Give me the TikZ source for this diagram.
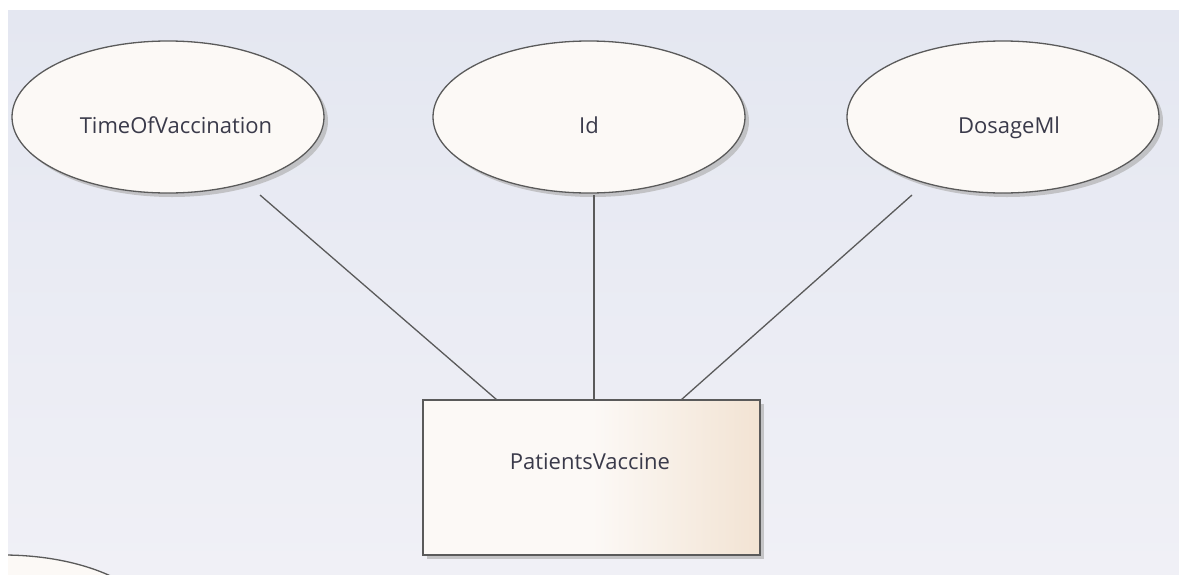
\documentclass[tikz,border=0pt]{standalone}
\usepackage{fontspec}
\setmainfont{Open Sans}
\usetikzlibrary{shapes.geometric,shadows}
\definecolor{bgtop}{HTML}{E4E7F1}
\definecolor{bgbot}{HTML}{F0F0F6}
\definecolor{fillc}{HTML}{FCF9F6}
\definecolor{peach}{HTML}{F2E3D3}
\definecolor{edge}{HTML}{5A5A5A}
\definecolor{txt}{HTML}{3A3A4A}
\tikzset{
  lbl/.style={font=\fontsize{22}{26}\selectfont, text=txt, anchor=base, inner sep=0pt},
  attr/.style={ellipse, draw=edge, line width=1.3pt, fill=fillc, minimum width=312pt, minimum height=152pt, inner sep=0pt,
    drop shadow={shadow xshift=4pt, shadow yshift=-4pt, fill=black!30, opacity=0.7}},
  entity/.style={rectangle, draw=edge, line width=1.3pt, minimum width=337pt, minimum height=155pt, inner sep=0pt},
  link/.style={draw=edge, line width=1.3pt}
}
\begin{document}
\begin{tikzpicture}[x=1pt,y=-1pt]
\useasboundingbox (0,0) rectangle (1179,574);
\fill[white] (0,0) rectangle (1179,574);
\shade[top color=bgtop, bottom color=bgbot] (8,10) rectangle (1179,574);
% partial ellipse at bottom left
\begin{scope}
\clip (8,10) rectangle (1179,574);
\node[attr] (lower) at (3,631) {};
\end{scope}
\node[attr] (tov) at (168,117) {};
\node[attr] (id) at (589,117) {};
\node[attr] (dos) at (1003,117) {};
\node[lbl] (tovl) at (176,133) {TimeOfVaccination};
\node[lbl] (idl) at (589,133) {Id};
\node[lbl] (dosl) at (1009,133) {DosageMl};
% entity
\fill[black!30, opacity=0.7] (427,404) rectangle (764,559);
\fill[fillc] (423,400) rectangle (592,555);
\shade[left color=fillc, right color=peach] (592,400) rectangle (760,555);
\node[entity] (pv) at (591.5,477.5) {};
\node[lbl] (pvl) at (590,469) {PatientsVaccine};
\coordinate (a1) at (260,195);
\coordinate (a2) at (594,195);
\coordinate (a3) at (912,195);
\coordinate (b1) at (497,400);
\coordinate (b2) at (594,400);
\coordinate (b3) at (681,400);
\draw[link] (a1) -- (b1);
\draw[link] (a2) -- (b2);
\draw[link] (a3) -- (b3);
\end{tikzpicture}
\end{document}
